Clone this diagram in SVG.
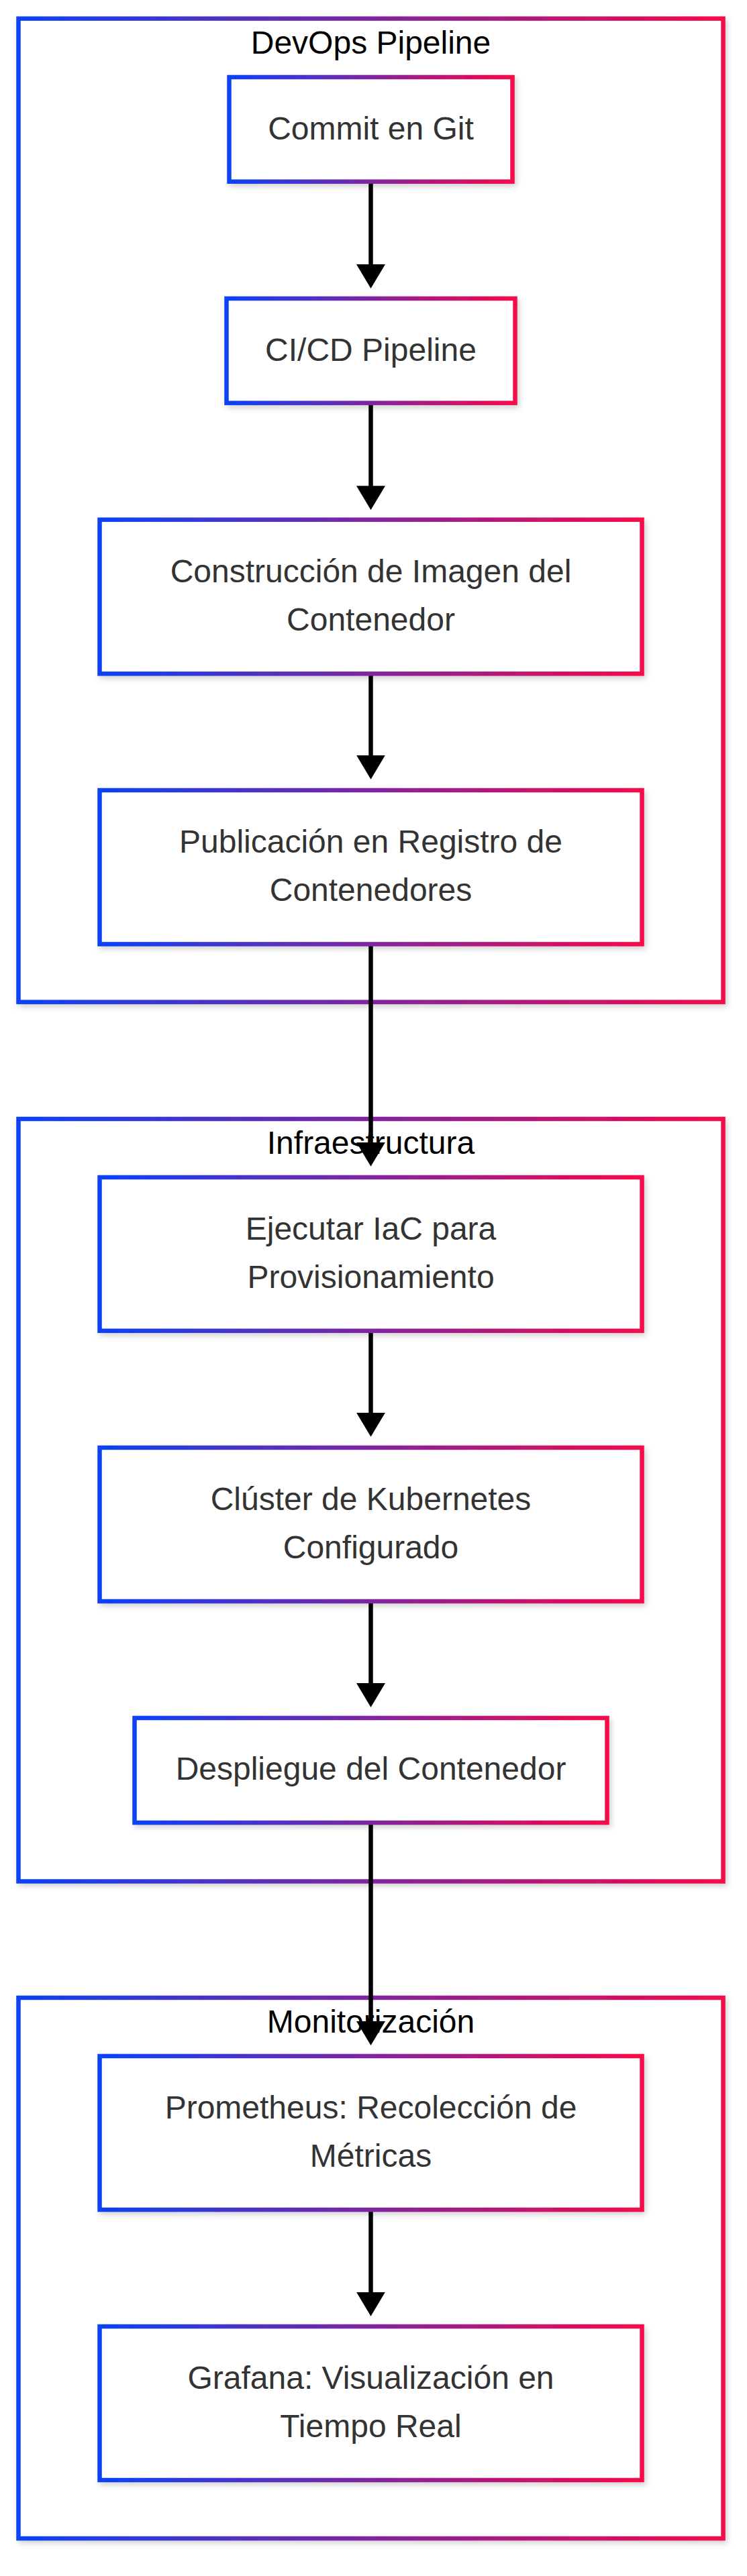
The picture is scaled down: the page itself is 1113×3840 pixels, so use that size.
<svg xmlns="http://www.w3.org/2000/svg" width="1113" height="3840" viewBox="0 0 1113 3840">
<defs>
<linearGradient id="grad" x1="0" y1="0" x2="1" y2="0">
<stop offset="0" stop-color="#0a42f5"/>
<stop offset="1" stop-color="#f5084a"/>
</linearGradient>
<filter id="shadow" x="-10%" y="-10%" width="120%" height="120%">
<feDropShadow dx="3" dy="4" stdDeviation="4" flood-color="#000" flood-opacity="0.18"/>
</filter>
<marker id="arrow" viewBox="0 0 36 43" refX="30" refY="21.5" markerWidth="36" markerHeight="43" markerUnits="userSpaceOnUse" orient="auto">
<path d="M0,0 L36,21.5 L0,43 Z" fill="#000"/>
</marker>
</defs>
<style>
.cluster rect{fill:#fff;stroke:url(#grad);stroke-width:6.5;filter:url(#shadow)}
.node rect{fill:#fff;stroke:url(#grad);stroke-width:6.5;filter:url(#shadow)}
.ctitle{font-family:"Liberation Sans",Arial,sans-serif;font-size:48px;fill:#000;text-anchor:middle}
.label{font-family:"Liberation Sans",Arial,sans-serif;font-size:48px;fill:#333;text-anchor:middle}
.edge{stroke:#000;stroke-width:6.5;fill:none}
</style>
<g id="clusters">
<g id="cluster-devops" class="cluster">
<rect x="27.5" y="27.7" width="1050" height="1466"/>
<text class="ctitle" x="552.5" y="80">DevOps Pipeline</text>
</g>
<g id="cluster-infra" class="cluster">
<rect x="27.5" y="1668" width="1050" height="1136.5"/>
<text class="ctitle" x="552.5" y="1719.5">Infraestructura</text>
</g>
<g id="cluster-monitor" class="cluster">
<rect x="27.5" y="2978" width="1050" height="806"/>
<text class="ctitle" x="552.5" y="3030">Monitorización</text>
</g>
</g>
<g id="connectors">
<path class="edge" d="M552.5,271 L552.5,424" marker-end="url(#arrow)"/>
<path class="edge" d="M552.5,601 L552.5,754.2" marker-end="url(#arrow)"/>
<path class="edge" d="M552.5,1004.3 L552.5,1155.7" marker-end="url(#arrow)"/>
<path class="edge" d="M552.5,1407.4 L552.5,1732.8" marker-end="url(#arrow)"/>
<path class="edge" d="M552.5,1983.8 L552.5,2135.8" marker-end="url(#arrow)"/>
<path class="edge" d="M552.5,2387 L552.5,2539" marker-end="url(#arrow)"/>
<path class="edge" d="M552.5,2717 L552.5,3043" marker-end="url(#arrow)"/>
<path class="edge" d="M552.5,3294 L552.5,3446.7" marker-end="url(#arrow)"/>
</g>
<g id="nodes">
<g id="commit" class="node">
<rect x="341.5" y="115" width="422" height="155.7"/>
<text class="label" x="552.5" y="207.6">Commit en Git</text>
</g>
<g id="cicd" class="node">
<rect x="337.5" y="445" width="430" height="155.7"/>
<text class="label" x="552.5" y="537.6">CI/CD Pipeline</text>
</g>
<g id="build" class="node">
<rect x="148.5" y="774.7" width="808" height="229.6"/>
<text class="label" x="552.5" y="868.2">Construcción de Imagen del</text>
<text class="label" x="552.5" y="940.2">Contenedor</text>
</g>
<g id="publish" class="node">
<rect x="148.5" y="1178" width="808" height="229.4"/>
<text class="label" x="552.5" y="1271.4">Publicación en Registro de</text>
<text class="label" x="552.5" y="1343.4">Contenedores</text>
</g>
<g id="iac" class="node">
<rect x="148.5" y="1755" width="808" height="228.8"/>
<text class="label" x="552.5" y="1848.1">Ejecutar IaC para</text>
<text class="label" x="552.5" y="1920.1">Provisionamiento</text>
</g>
<g id="k8s" class="node">
<rect x="148.5" y="2158" width="808" height="229"/>
<text class="label" x="552.5" y="2251.2">Clúster de Kubernetes</text>
<text class="label" x="552.5" y="2323.2">Configurado</text>
</g>
<g id="deploy" class="node">
<rect x="200.5" y="2561" width="704" height="156"/>
<text class="label" x="552.5" y="2653">Despliegue del Contenedor</text>
</g>
<g id="prometheus" class="node">
<rect x="148.5" y="3065" width="808" height="229"/>
<text class="label" x="552.5" y="3158.2">Prometheus: Recolección de</text>
<text class="label" x="552.5" y="3230.2">Métricas</text>
</g>
<g id="grafana" class="node">
<rect x="148.5" y="3468" width="808" height="229"/>
<text class="label" x="552.5" y="3561.2">Grafana: Visualización en</text>
<text class="label" x="552.5" y="3633.2">Tiempo Real</text>
</g>
</g>
</svg>
